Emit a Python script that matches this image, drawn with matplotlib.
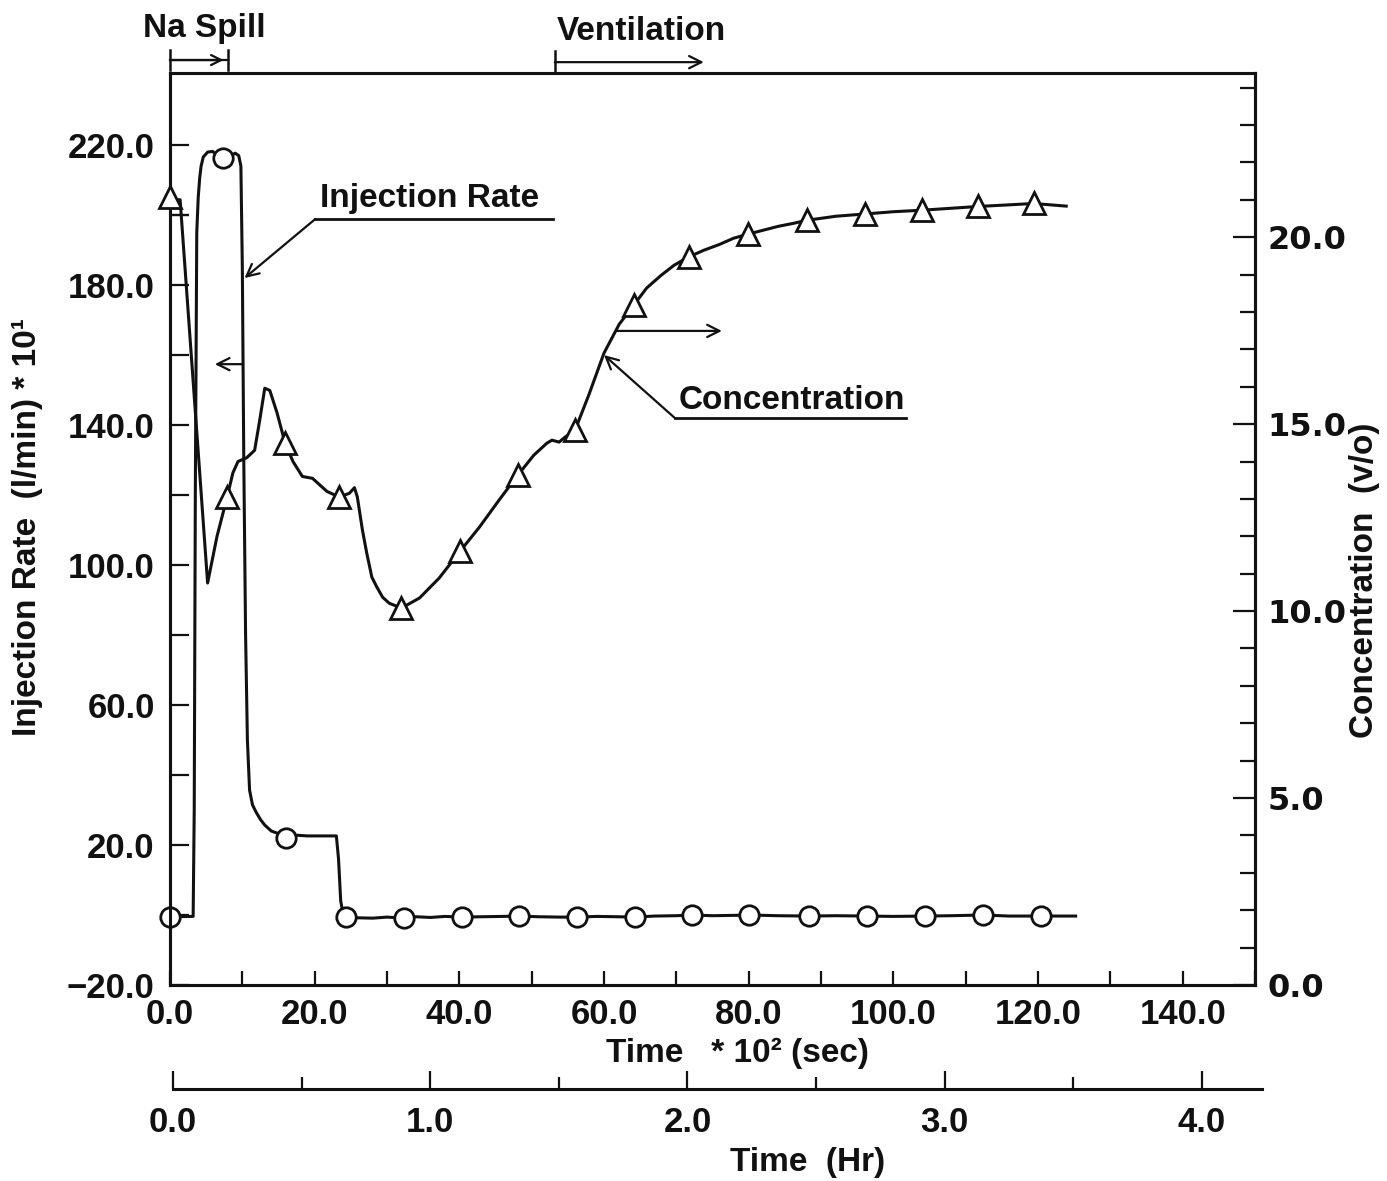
import matplotlib
matplotlib.use('Agg')
import matplotlib.pyplot as plt
from matplotlib.ticker import FixedLocator, FuncFormatter

# ---------------- data (time in 10^2 s) ----------------
inj_time = [0.0, 3.2, 3.35, 3.5, 3.7, 3.9, 4.1, 4.3, 4.6, 5.2, 5.9, 6.5, 7.3, 8.2,
            9.0, 9.5, 9.8, 10.0, 10.2, 10.45, 10.7, 11.0, 11.4, 11.9, 12.5, 13.1,
            14.0, 15.2, 19.0, 23.0, 23.3, 23.6, 24.0, 26.0, 28.0, 30.0, 32.3, 34.0,
            36.0, 38.0, 40.3, 43.0, 46.0, 48.3, 51.0, 54.0, 56.3, 59.0, 62.0, 64.3,
            67.0, 70.0, 72.1, 75.0, 78.0, 80.1, 84.0, 88.4, 92.0, 96.4, 100.0,
            104.4, 108.0, 112.4, 116.0, 120.4, 125.2]
inj_rate = [-0.5, -0.4, 30.0, 120.0, 195.0, 205.0, 210.5, 214.0, 216.6, 218.0,
            218.2, 217.0, 216.3, 216.5, 217.7, 217.0, 214.0, 185.0, 130.0, 80.0,
            50.0, 35.7, 31.5, 29.4, 27.3, 25.7, 24.0, 23.1, 22.6, 22.6, 16.0, 4.0,
            -0.4, -0.8, -0.9, -0.6, -0.9, -0.5, -0.7, -0.4, -0.6, -0.5, -0.4, -0.3,
            -0.5, -0.6, -0.6, -0.4, -0.5, -0.6, -0.3, -0.2, 0.0, -0.2, -0.1, 0.0,
            -0.2, -0.3, -0.2, -0.3, -0.4, -0.3, -0.2, 0.0, -0.3, -0.3, -0.3]
inj_mark_time = [0.0, 7.3, 16.1, 24.4, 32.3, 40.3, 48.3, 56.3, 64.3, 72.1, 80.1,
                 88.4, 96.4, 104.4, 112.4, 120.4]
inj_mark_rate = [-0.6, 216.3, 22.0, -0.6, -0.9, -0.6, -0.3, -0.6, -0.6, 0.0, 0.0,
                 -0.3, -0.3, -0.3, 0.0, -0.3]

conc_time = [0.0, 0.8, 1.4, 5.2, 6.5, 7.9, 8.7, 9.4, 10.6, 11.7, 12.4, 13.1, 13.8,
             14.8, 15.9, 17.0, 18.3, 19.7, 21.7, 23.4, 24.8, 25.5, 25.9, 26.6, 27.2,
             27.9, 28.6, 29.4, 30.3, 32.0, 34.5, 37.2, 40.1, 42.8, 45.5, 48.1, 50.3,
             52.1, 52.8, 53.8, 54.6, 56.0, 57.9, 60.0, 62.1, 64.1, 65.9, 67.9, 69.7,
             71.7, 73.8, 75.9, 77.9, 79.9, 82.1, 84.1, 86.2, 88.0, 92.1, 96.1, 100.0,
             103.9, 107.8, 111.7, 115.6, 119.4, 123.9]
conc_val = [21.07, 21.0, 21.0, 10.75, 12.0, 13.05, 13.7, 14.0, 14.1, 14.3, 15.1,
            15.96, 15.9, 15.3, 14.5, 14.0, 13.6, 13.55, 13.2, 13.05, 13.15, 13.3,
            13.05, 12.17, 11.55, 10.91, 10.64, 10.37, 10.21, 10.08, 10.35, 10.88,
            11.6, 12.25, 12.97, 13.64, 14.17, 14.49, 14.57, 14.52, 14.65, 14.84,
            15.78, 16.9, 17.67, 18.18, 18.64, 18.98, 19.25, 19.47, 19.65, 19.8,
            19.97, 20.08, 20.19, 20.29, 20.37, 20.45, 20.56, 20.62, 20.68, 20.72,
            20.77, 20.82, 20.86, 20.9, 20.83]
conc_mark_time = [0.0, 7.9, 15.9, 23.4, 32.0, 40.1, 48.1, 56.0, 64.1, 71.7, 79.9,
                  88.0, 96.1, 103.9, 111.7, 119.4]
conc_mark_val = [21.07, 13.05, 14.5, 13.05, 10.08, 11.6, 13.64, 14.84, 18.18, 19.47,
                 20.08, 20.45, 20.62, 20.72, 20.82, 20.9]

sec_ticks = [0, 20, 40, 60, 80, 100, 120, 140]
hr_ticks = [0, 1, 2, 3, 4]
inj_ticks = [-20, 20, 60, 100, 140, 180, 220]
conc_ticks = [0, 5, 10, 15, 20]

# ---------------- figure ----------------
W, H, DPI = 1387, 1181, 100
plt.rcParams['font.family'] = ['Liberation Sans', 'DejaVu Sans']
plt.rcParams['font.weight'] = 'bold'
plt.rcParams['axes.unicode_minus'] = True
INK = '#111111'
FS = 24
TFS = 25

fig = plt.figure(figsize=(W / DPI, H / DPI), dpi=DPI)
fig.patch.set_facecolor('white')


def fx(px):
    return px / W


def fy(py):
    return 1 - py / H


ax = fig.add_axes([fx(170), fy(985), fx(1255) - fx(170), fy(73) - fy(985)])
ax.set_xlim(0, 150)
ax.set_ylim(-20, 240.6)
ax2 = ax.twinx()
ax2.set_ylim(0, 24.39)

for a in (ax, ax2):
    for s in a.spines.values():
        s.set_linewidth(2.2)
        s.set_color(INK)

fmt = FuncFormatter(lambda v, p: ('\u2212%.1f' % abs(v)) if v < 0 else '%.1f' % v)

# x ticks
ax.xaxis.set_major_locator(FixedLocator(sec_ticks))
ax.xaxis.set_minor_locator(FixedLocator([t + 10 for t in sec_ticks]))
ax.xaxis.set_major_formatter(fmt)
ax.tick_params(axis='x', which='both', direction='in', length=10, width=1.6,
               colors=INK, labelsize=TFS, pad=9, top=False)
# left y ticks
ax.yaxis.set_major_locator(FixedLocator(inj_ticks))
ax.yaxis.set_minor_locator(FixedLocator([t + 20 for t in inj_ticks[:-1]] + [200]))
ax.yaxis.set_major_formatter(fmt)
ax.tick_params(axis='y', which='both', direction='in', length=14, width=1.6,
               colors=INK, labelsize=TFS, pad=11)
# right y ticks
ax2.yaxis.set_major_locator(FixedLocator(conc_ticks))
ax2.yaxis.set_minor_locator(FixedLocator([i for i in range(1, 25) if i % 5]))
ax2.yaxis.set_major_formatter(fmt)
ax2.tick_params(axis='y', which='major', direction='in', length=16, width=1.6,
                colors=INK, pad=9)
ax2.tick_params(axis='y', which='minor', direction='in', length=11, width=1.6,
                colors=INK)
for lab in ax2.get_yticklabels():
    lab.set_family(['DejaVu Sans'])
    lab.set_fontsize(23)
    lab.set_fontweight('bold')

for lab in ax.get_xticklabels() + ax.get_yticklabels():
    lab.set_fontweight('bold')

# curves
ax.plot(inj_time, inj_rate, color=INK, lw=2.2, zorder=3, solid_joinstyle='round')
ax.plot(inj_mark_time, inj_mark_rate, 'o', ms=14, mfc='white', mec=INK, mew=2.0,
        zorder=4, clip_on=False)
ax2.plot(conc_time, conc_val, color=INK, lw=2.2, zorder=3, solid_joinstyle='round')
ax2.plot(conc_mark_time, conc_mark_val, '^', ms=16, mfc='white', mec=INK, mew=2.0,
         zorder=4, clip_on=False)

# annotations (left-axis data coordinates)
arr = dict(arrowstyle='->', lw=1.6, color=INK, mutation_scale=22, shrinkA=0, shrinkB=0)
ax.plot([20.1, 53.0], [198.9, 198.9], color=INK, lw=2.0)
ax.annotate('', xy=(10.3, 182), xytext=(20.1, 198.9), arrowprops=arr)
ax.text(20.7, 202.3, 'Injection Rate', fontsize=FS, fontweight='bold', va='baseline',
        color=INK)
ax.annotate('', xy=(6.2, 157.4), xytext=(10.1, 157.4), arrowprops=arr)

ax.plot([69.8, 101.8], [142.0, 142.0], color=INK, lw=2.0)
ax.annotate('', xy=(60.0, 160.0), xytext=(69.8, 142.0), arrowprops=arr)
ax.text(70.3, 144.6, 'Concentration', fontsize=FS, fontweight='bold', va='baseline',
        color=INK)
ax.annotate('', xy=(76.3, 166.9), xytext=(61.8, 166.9), arrowprops=arr)

# top event markers
arr_top = dict(arrowstyle='->', lw=1.6, color=INK, mutation_scale=18, shrinkA=0,
               shrinkB=0)
ax.annotate('', xy=(7.4, 244.3), xytext=(0.0, 244.3), annotation_clip=False,
            arrowprops=arr_top)
ax.plot([0.0, 8.0], [244.3, 244.3], color=INK, lw=1.6, clip_on=False)
ax.plot([0.0, 0.0], [241.6, 247.2], color=INK, lw=1.8, clip_on=False)
ax.plot([8.0, 8.0], [241.6, 247.2], color=INK, lw=1.8, clip_on=False)
ax.annotate('', xy=(73.8, 243.7), xytext=(53.2, 243.7), annotation_clip=False,
            arrowprops=dict(arr_top, mutation_scale=22))
ax.plot([53.2, 53.2], [240.6, 247.0], color=INK, lw=1.8, clip_on=False)
fig.text(fx(204), fy(28), 'Na Spill', fontsize=FS, fontweight='bold', ha='center',
         va='center', color=INK)
fig.text(fx(641), fy(32), 'Ventilation', fontsize=FS, fontweight='bold', ha='center',
         va='center', color=INK)

# axis labels
fig.text(fx(28), fy(527), 'Injection Rate  (l/min) * 10\u00b9', fontsize=FS,
         fontweight='bold', rotation=90, ha='center', va='center', color=INK)
fig.text(fx(1365), fy(580), 'Concentration  (v/o)', fontsize=FS, fontweight='bold',
         rotation=90, ha='center', va='center', color=INK)
fig.text(fx(737), fy(1053), 'Time   * 10\u00b2 (sec)', fontsize=FS, fontweight='bold',
         ha='center', va='center', color=INK)

# hour axis
ax3 = fig.add_axes([fx(173), fy(1089), fx(1262) - fx(173), 0.0005])
ax3.set_xlim(0, 4.234)
ax3.set_ylim(0, 1)
ax3.patch.set_visible(False)
for k in ('top', 'left', 'right'):
    ax3.spines[k].set_visible(False)
ax3.spines['bottom'].set_linewidth(2.2)
ax3.spines['bottom'].set_color(INK)
ax3.set_yticks([])
ax3.xaxis.set_major_locator(FixedLocator(hr_ticks))
ax3.xaxis.set_minor_locator(FixedLocator([t + 0.5 for t in hr_ticks[:-1]]))
ax3.xaxis.set_major_formatter(FuncFormatter(lambda v, p: '%.1f' % v))
ax3.tick_params(axis='x', which='major', direction='in', length=13, width=1.6,
                colors=INK, labelsize=TFS, pad=12)
ax3.tick_params(axis='x', which='minor', direction='in', length=9, width=1.6,
                colors=INK)
for lab in ax3.get_xticklabels():
    lab.set_fontweight('bold')
fig.text(fx(808), fy(1162), 'Time  (Hr)', fontsize=FS, fontweight='bold',
         ha='center', va='center', color=INK)

fig.savefig('out.png', dpi=DPI, facecolor='white')
